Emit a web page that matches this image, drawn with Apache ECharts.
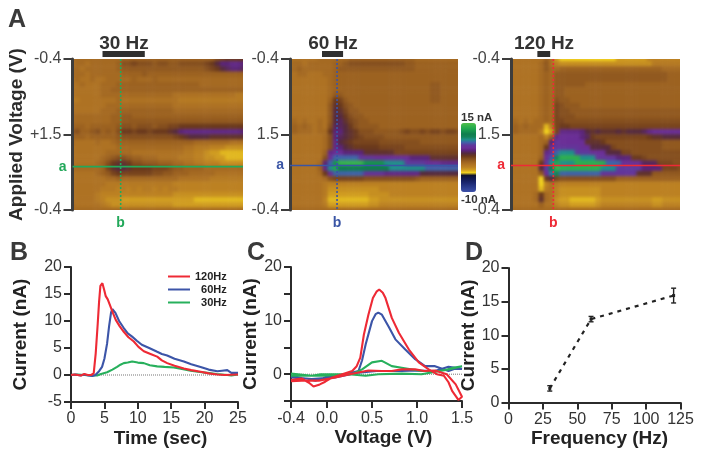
<!DOCTYPE html>
<html>
<head>
<meta charset="utf-8">
<script src="https://cdn.jsdelivr.net/npm/echarts@6/dist/echarts.min.js"></script>
<style>
html,body{margin:0;padding:0;background:#fff}
#stage{position:relative;width:701px;height:455px;filter:blur(0.4px)}
#clip{position:absolute;left:0;top:0;width:701px;height:455px;clip-path:path('M72.5 59H243V210H72.5Z M290 59H458V210H290Z M511 59H680V210H511Z')}
#maps{width:701px;height:455px;filter:blur(1.5px)}
#main{position:absolute;left:0;top:0;width:701px;height:455px}
</style>
</head>
<body>
<div id="stage">
  <div id="clip"><div id="maps"></div></div>
  <div id="main"></div>
</div>
<script>
// colour scale, nA from -10 up to 15
var scaleColors = ['#3c50a8','#324499','#283888','#1e2b76','#162062','#10184c','#0e1230','#f2d21e','#d09c20','#bc8122','#ae7223','#9c6220','#854f1e','#6a391c','#552a3e','#5a2478','#6a2e96','#5e3a9c','#3f62a8','#1f8e8a','#138459','#0f7d4e','#15934f','#22a74e','#35b44c','#52bd4a']

// colour plots, rows from top to bottom, 34 columns, nA
var plot30 = [
[.5,.5,.5,.5,.5,.5,.5,.5,.5,.5, 1,1,1,1,1,1,1,1,1,1, 1,1,1,1,1,1,1,1,2,2.5,3,3,3,3],
[0,.5,.5,0,.5,.5,.5,.5,.5,1, 2,2,2.5,2,2,2,1.5,2,2,1.5, 1.5,2,2,2,2,2,2.5,3,4,5,5,5.5,5.5,5],
[.5,.5,0,.5,.5,.5,.5,.5,.5,1, 1.5,1.5,1.5,1.5,1.5,1.5,1.5,1.5,1.5,1.5, 1.5,1.5,1.5,1.5,1.5,1.5,2,2.5,3,4,4.5,5,5,4.5],
[.5,.5,.5,0,.5,.5,.5,.5,.5,.5, 1,1,1,1,1.5,1,1,1,1,1, 1,1,1,1,1,1,1,1,1,1,1,1,1,1],
[0,.5,0,0,.5,0,0,.5,.5,.5, .5,.5,1,.5,.5,.5,1,.5,.5,.5, .5,.5,.5,.5,.5,.5,.5,.5,.5,.5,.5,.5,.5,.5],
[0,0,.5,0,0,0,.5,.5,.5,1, 1,1,1,1,1,1,1,1,1,1, 1,1,1,1,1,.5,.5,.5,.5,.5,.5,.5,.5,.5],
[0,0,0,0,0,0,.5,.5,1,1, 1,1,1,1,1,1,1,1,1,1, 1,1,1,1,1,1,1,1,1,1,1,1,1,1],
[0,0,0,0,0,0,.5,.5,.5,.5, .5,.5,.5,.5,.5,.5,.5,.5,.5,.5, 0,0,0,0,0,0,0,0,0,0,0,0,-.5,-.5],
[-.5,-.5,0,0,0,0,0,0,0,.5, 0,0,0,0,0,0,0,0,0,0, 0,-.5,-.5,-.5,-.5,-.5,-.5,-.5,-.5,-.5,-.5,-.5,-.5,-.5],
[0,0,0,0,0,0,0,.5,.5,.5, .5,.5,.5,.5,.5,.5,.5,.5,.5,.5, 0,0,0,0,0,0,0,0,0,0,0,0,0,0],
[0,0,0,0,0,0,.5,.5,.5,1, 1,1,1,1,1,1,1,1,1,1, .5,.5,.5,.5,.5,.5,.5,.5,.5,.5,.5,.5,.5,.5],
[.5,.5,.5,.5,.5,.5,.5,.5,1,1, 1.5,1.5,1,1,1,1,1,1,1,1, 1,1,1,1,1,1,1,1,1,1,1,1,1,1],
[.5,.5,.5,.5,.5,.5,.5,.5,1,1, 1.5,1.5,1.5,1.5,1.5,1.5,1.5,1.5,1.5,1.5, 1.5,1.5,1.5,1.5,1.5,1.5,1.5,1.5,1.5,1.5,1.5,1.5,1.5,1.5],
[1,1,1,.5,1,1,1,1,1,1.5, 2,2,1.5,2,2,2,1.5,2,2,2.5, 2.5,3,3,3,3,3,3,3,3,3,3,3,3,3],
[1.5,2,1,1,1.5,2,1,1.5,1,2, 3,3,2.5,3,3,2.5,3,3,3,3.5, 4,5,5.5,5.5,5.5,5.5,5.5,5.5,5.5,5.5,5.5,5.5,5.5,5],
[1,1,1,.5,1,1,1,1,1,1.5, 2,2,2,2,2,2,2,2,2,2, 2.5,3,3.5,4,4,4,4,3.5,3.5,3.5,3.5,3.5,3.5,3.5],
[.5,0,0,0,0,.5,0,0,.5,1, 1,1,1,1,1,1,1,1,1,1, 1,1,1,1,.5,.5,.5,.5,.5,.5,.5,0,0,0],
[0,0,0,0,0,0,0,0,0,.5, .5,.5,.5,.5,.5,.5,.5,.5,.5,.5, .5,.5,0,0,-.5,-.5,-.5,-1,-1,-1,-1.5,-1.5,-1.5,-1.5],
[0,0,0,0,0,0,0,.5,.5,.5, .5,.5,0,0,0,0,0,0,0,0, 0,0,-.5,-.5,-1,-1,-1.5,-2,-2,-2.5,-2.5,-2.5,-2.5,-2.5],
[0,0,0,0,0,0,.5,1,1.5,2, 2,1.5,1,1,.5,.5,.5,0,0,0, 0,-.5,-.5,-.5,-1,-1,-1.5,-1.5,-2,-2,-2.5,-2.5,-2.5,-2.5],
[0,0,0,0,0,.5,1,2,3,3.5, 3.5,3,2,2,1.5,1.5,1.5,1,1,1, .5,.5,0,0,-.5,-.5,-1,-1,-1,-1.5,-1.5,-1.5,-1.5,-1.5],
[.5,.5,.5,.5,.5,.5,1,2.5,3.5,4, 4,3.5,3,3,3,3,2.5,2.5,2.5,2, 1.5,1.5,1,1,1,1,.5,.5,.5,.5,.5,.5,.5,.5],
[0,0,0,0,0,.5,1,1.5,2.5,3, 2.5,2.5,2.5,2.5,2.5,2.5,2,2,1.5,1.5, 1,1,1,.5,.5,.5,.5,.5,0,0,0,0,0,0],
[0,0,0,0,0,0,0,.5,.5,1, .5,.5,.5,.5,.5,.5,.5,.5,.5,.5, .5,0,0,0,0,0,0,-.5,-.5,-.5,-.5,-.5,-.5,-.5],
[0,0,0,0,0,0,0,-.5,-.5,-.5, -.5,-.5,-.5,-.5,-.5,-.5,-.5,-.5,-.5,-.5, -1,-1,-1,-1,-1,-1,-1,-1,-1,-1,-1,-1,-1,-1],
[0,0,0,0,0,0,-.5,-.5,-.5,-1, -.5,-1,-.5,-1,-.5,-.5,-1,-.5,-1,-.5, -.5,-1,-1,-1,-1,-1,-1,-1,-1,-1,-1,-1,-1,-1],
[0,0,0,0,0,-.5,-1,-1,-1,-1, -1,-1,-1,-1,-1,-1,-1,-1,-1,-1, -1.5,-1.5,-1.5,-1.5,-1.5,-1.5,-1.5,-1.5,-1.5,-1.5,-1.5,-1.5,-1.5,-1.5],
[0,0,0,0,0,-.5,-1,-1.5,-1.5,-1.5, -2,-2,-2,-2,-2,-2,-2,-2,-2,-2, -2,-2,-2,-2,-2.5,-2.5,-2.5,-2.5,-2.5,-2.5,-2.5,-2.5,-2.5,-2.5],
[.5,0,0,0,0,0,-.5,-1,-1.5,-1.5, -1.5,-1.5,-1.5,-1.5,-1.5,-1.5,-1.5,-1.5,-1.5,-1.5, -2,-2,-2,-2,-2,-2,-2,-2,-2,-2,-2,-2,-2,-2],
[.5,.5,.5,.5,.5,.5,.5,.5,.5,.5, .5,.5,.5,.5,.5,.5,.5,.5,.5,.5, .5,.5,.5,.5,.5,.5,.5,.5,.5,.5,.5,.5,.5,.5]
]
var plot60 = [
[0,0,0,0,0,0,.5,.5,.5,.5, .5,.5,1,1,1,1,1,1,1,1, 1,1,1,1,1,.5,.5,.5,.5,.5,.5,.5,.5,.5],
[0,.5,.5,0,.5,.5,.5,.5,.5,1, 1,1.5,2,2,2,2,2,2,2,2, 2,2,2,1.5,1.5,1,1,1,1,1,1,1,1,1],
[.5,.5,1,.5,.5,.5,.5,.5,.5,1, 1.5,1.5,1.5,1.5,1.5,1.5,1.5,1.5,1.5,1.5, 1.5,1.5,1.5,1.5,1.5,1,1,1,1,1,1,1,1,1],
[0,0,.5,.5,0,0,0,.5,.5,1, 1,1,1,1,1,1,1,1,1,1, 1,1,1,1,1,1,1,1,1,1,1,1,1,1],
[0,0,0,0,0,0,0,0,.5,1, 1,1,1,1,1,1,1,1,1,1, 1,1,1,1,1,1,1,1,1,1,1,1,1,1],
[0,0,0,0,0,0,0,0,.5,1, 1,1,1,1,1,1,1,1,1,1, 1,1,1,1,1,1,1,1,1.5,1.5,1,1,1,1],
[0,0,0,0,0,0,0,0,.5,1, 1,1,1,1,1,1,1,1,1,1, 1,1,1,1,1,1,1,1,1.5,1.5,1,1,1,1],
[0,0,0,0,0,0,0,0,.5,1.5, 1.5,1,1,1,1,1,1,1,1,1, 1,1,1,1,1,1,1,1,1.5,1.5,1,1,1,1],
[0,0,0,0,0,0,0,0,1,3, 2.5,1.5,1,1,1,1,1,1,1,1, 1,1,1,1,1,1,1,1,1.5,1.5,1,1,1,1],
[0,0,0,0,0,0,0,0,1.5,3.5, 3,2,1.5,1,1,1,1,1,1,1, 1,1,1,1,1,1,1,1,1,1,1,1,1,1],
[0,0,0,0,0,0,0,0,1.5,4, 3.5,2.5,1.5,1.5,1,1,1,1,1,1, 1,1,1,1,1,1,1,1,1,1,1,1,1,1],
[0,0,0,0,0,0,0,0,1.5,4, 4,3,2,1.5,1.5,1,1,1,1,1, 1,1,1,1,1,1,1,1,1,1,1,1,1,1],
[.5,.5,0,.5,0,0,.5,0,1.5,4, 4.5,3.5,2.5,2,1.5,1.5,1,1,1,1, 1,1,1,1,1,1,1,1,1,1,1,1,1,1],
[.5,1,.5,1,.5,0,.5,0,2,4.5, 4.5,4,3,2,1.5,1.5,1.5,1.5,1,1, 1,1,1,1,1,1,1,1,1,1,1,1,1,1],
[.5,1,.5,.5,.5,0,.5,.5,3,5, 5,4,3.5,3,2,2,2,1.5,1.5,1.5, 1.5,1.5,2,2.5,2,2,2.5,2,2.5,2.5,2,2.5,2.5,2],
[0,0,0,0,0,0,0,.5,2,5, 4.5,4,3.5,3,2.5,2,2,2,2,1.5, 1.5,1.5,1.5,1.5,1.5,1.5,1.5,1.5,1.5,1.5,1.5,1.5,1.5,1.5],
[0,0,0,0,0,0,0,.5,2,5.5, 4,3.5,3,2.5,2.5,2.5,2.5,2.5,2,2, 2,2,2,2,2,2,1.5,1.5,1.5,1.5,1.5,1.5,1.5,1.5],
[0,0,0,0,0,0,0,.5,2,5.5, 5,4,3.5,3,3,3,3,3,2.5,2.5, 2.5,2.5,2.5,2,2,2,2,2,2,2,2,2,2,2],
[0,0,0,0,0,0,0,1,5.5,6, 6,5,5,5,5,3.5,3.5,3.5,3.5,3.5, 3.5,2.5,2.5,2.5,2.5,2.5,2.5,2.5,2.5,2.5,2.5,2.5,2.5,2.5],
[0,0,0,0,0,0,0,2,6,8, 8,8,8,8,6.5,6.5,6.5,6,6,6, 6,6,6,6,5,5,5,5,3.5,3.5,3.5,3.5,3.5,3.5],
[0,0,0,0,0,0,.5,5,8,12, 14,14,14,14,14,12,12,12,12,9, 9,9,9,7,7,7,7,6,6,6,5.5,5.5,5.5,5.5],
[0,0,0,0,0,0,1,5.5,9,13, 11,11,11,11,11,11,11,11,11,11, 9,9,9,9,9,9,9,8,8,8,8,8,8,8],
[0,0,0,0,0,0,.5,3,6,8, 8,8,8,8,8,6.5,6.5,6.5,6.5,5.5, 5.5,5.5,5.5,5.5,5.5,5.5,4,4,4,4,4,4,4,4],
[0,0,0,0,0,0,0,.5,2,2.5, 2.5,2.5,2.5,2.5,2.5,2,2,2,2,2, 2,2,2,2,2,1.5,1,1,1,1,1,1,1,1],
[0,0,0,0,0,0,0,-.5,-1,-1, -1,-1,-1,-1,-1,-1,-1,-1,-1,-1, -1,-1,-1,-1,-1,-1,-1,-1,-1,-1,-1,-1,-1,-1],
[0,0,0,0,0,0,0,-.5,-1.5,-1.5, -1.5,-1.5,-1.5,-1.5,-1.5,-1.5,-1.5,-1.5,-1,-1, -1,-1,-1,-1,-1,-1,-1,-1,-1,-1,-1,-1,-1,-1],
[0,0,0,0,0,0,0,-.5,-2,-2, -2,-2,-2,-2,-2,-2,-1.5,-1.5,-1.5,-1.5, -1,-1,-1,-1,-1,-1,-1,-1,-1,-1,-1,-1,-1,-1],
[0,0,0,0,0,0,0,-1,-2.5,-2.5, -2.5,-2.5,-2.5,-2.5,-2.5,-2.5,-2,-2,-1.5,-1.5, -1.5,-1.5,-1.5,-1.5,-1.5,-1.5,-1.5,-1.5,-1.5,-1.5,-1.5,-1.5,-1.5,-1.5],
[0,0,0,0,0,0,0,-.5,-2,-2, -2,-2,-2,-2,-2,-2,-1.5,-1.5,-1,-1, -1,-1,-1,-1,-1,-1,-1,-1,-1,-1,-1,-1,-1,-1],
[.5,.5,.5,.5,.5,.5,.5,.5,.5,.5, .5,.5,.5,.5,.5,.5,.5,.5,.5,.5, .5,.5,.5,.5,.5,.5,.5,.5,.5,.5,.5,.5,.5,.5]
]
var plot120 = [
[0,0,0,0,0,0,0,1,0,-2, -3,-3,-3,-3,-3,-3,-3,-3,-3,-3, -3,-2,-2,-2,-2,-2,-2,-1,-1,-1,-1,-1,-1,-1],
[0,0,0,0,0,0,.5,1.5,0,-1, -1.5,-1.5,-1.5,-1.5,-1.5,-1.5,-1.5,-1.5,-1.5,-1.5, -1.5,-1.5,-1.5,-1.5,-1.5,-1.5,-1.5,-1.5,-.5,-.5,-.5,-.5,-.5,-.5],
[0,0,0,0,0,0,.5,1.5,.5,.5, 1,1,1,1,1,1,1,1,1,1, 1,1,1,1,1,1,1,1,1,1,.5,.5,.5,.5],
[0,0,0,0,0,0,.5,1,.5,1.5, 1.5,1.5,1.5,1.5,1.5,1.5,1.5,1.5,1.5,1.5, 1.5,1.5,1.5,1.5,1.5,1.5,1.5,1.5,1.5,1.5,1.5,1,1,1],
[0,0,0,0,0,0,.5,1,.5,1.5, 1.5,1.5,1.5,1.5,1.5,1.5,1.5,1.5,1.5,1.5, 1.5,1.5,1.5,1.5,1.5,1.5,1.5,1.5,1.5,1.5,1.5,1,1,1],
[0,0,0,0,0,0,.5,1,.5,1.5, 1.5,1.5,1.5,1.5,1.5,1,1,1,1,1, 1,1,1,1,1,1,1,1,1,1,1,1,1,1],
[0,0,0,0,0,0,.5,1,.5,1.5, 1.5,1,1,1,1,1,1,1,1,1, 1,1,1,1,1,1,1,1,1,1,1,1,1,1],
[0,0,0,0,0,0,.5,1,.5,1.5, 1.5,1,1,1,1,1,1,1,1,1, 1,1,1,1,1,1,1,1,1,1,1,1,1,1],
[0,0,0,0,0,0,.5,1,.5,2, 1.5,1.5,1,1,1,1,1,1,1,1, 1,1,1,1,1,1,1,1,1,1,1,1,1,1],
[0,0,0,0,0,0,.5,1,.5,2.5, 2,1.5,1.5,1.5,1,1,1,1,1,1, 1,1,1,1,1,1,1,1,1,1,1,1,1,1],
[0,0,0,0,0,0,.5,1,.5,2.5, 2,2,1.5,1.5,1.5,1.5,1.5,1.5,1.5,1.5, 1.5,1.5,1.5,1.5,1.5,1.5,1.5,1.5,1.5,1.5,1.5,1.5,1.5,1.5],
[0,0,0,0,0,0,.5,1,.5,2.5, 2,2,2,1.5,1.5,1.5,1.5,1.5,1.5,1.5, 1.5,1.5,1.5,1.5,1.5,1.5,1.5,1.5,1.5,1.5,1.5,1.5,1.5,1.5],
[.5,.5,0,.5,0,.5,.5,1,.5,2.5, 2.5,2,2,2,2,2,2,2,2,2, 2,2,2,2,2,2,2,2,2,2,2,2,2,2],
[.5,1,.5,1,.5,.5,.5,-2.5,-.5,2.5, 3,3,2.5,2.5,2.5,2.5,2.5,2.5,2.5,2.5, 2.5,2.5,2.5,2.5,2.5,2.5,2.5,2.5,2.5,2.5,2.5,2.5,2.5,2.5],
[.5,1,.5,.5,.5,.5,-.5,-3,-2,2.5, 5.5,5.5,5.5,5.5,5,4,3.5,4,3.5,3.5, 3.5,4,3.5,4,4,4,4.5,5.5,6,6,6,6,6,6],
[0,0,0,0,0,0,.5,-1,1,5.5, 6,6,6,6,5,4.5,3,2.5,2.5,2.5, 2.5,2.5,2.5,2.5,2.5,2.5,2.5,3,3.5,3.5,4,4,4,4],
[0,0,0,0,0,0,.5,1,5,6.5, 6,6,6,6,6,3.5,3.5,3.5,3,2, 2,2,2,2,2,2,2,2,2,2,1.5,1.5,1.5,1.5],
[0,0,0,0,0,0,.5,3,6,6.5, 6.5,6.5,6.5,6.5,6,6,4,4,4,4, 2.5,2,2,2,2,2,2,2,2,2,1.5,1.5,1.5,1.5],
[0,0,0,0,0,0,.5,5.5,6.5,8, 9,9,9,7,7,7,6,6,6,4, 4,4,2.5,2.5,2,2,2,2,2,2,2,2,2,2],
[0,0,0,0,0,0,1,6,7.5,10, 13.5,13.5,13.5,13.5,9,9,9,6.5,6.5,6.5, 6.5,5,5,5,3,3,2.5,2,2,2,2,2,2,2],
[0,0,0,0,0,0,3,6.5,9,13, 9,9,9,13.5,13.5,13.5,13.5,13.5,13.5,8, 8,8,6,6,6,6,4.5,4.5,4.5,2.5,2.5,2.5,2,2],
[0,0,0,0,0,0,4,7,11,14, 13.5,13.5,13.5,13.5,13.5,13.5,13.5,13.5,9,9, 9,7,7,7,7,7,5,5,5,5,2.5,2.5,2.5,2],
[0,0,0,0,0,0,1.5,6,8.5,10, 8,8,8,8,8,8,8,8,6.5,6.5, 6.5,6.5,6.5,6.5,6.5,3.5,3.5,3.5,1.5,1.5,1.5,1.5,1.5,1.5],
[0,0,0,0,0,0,-3,3,4,2.5, 2,2,2,2,2,2,2,2,2,2, 2,1,1,1,1,1,1,1,1,1,1,1,1,1],
[0,0,0,0,0,0,-3,-1,0,-.5, -1,-1,-1,-1,-1,-1,-1,-1,-1,-1, -1,-1,-1,-1,-1,-1,-1,-1,-1,-1,-1,-1,-1,-1],
[0,0,0,0,0,0,-2.5,-.5,0,-1, -1.5,-1.5,-1.5,-1.5,-1.5,-1.5,-1.5,-1.5,-1,-1, -1,-1,-1,-1,-1,-1,-1,-1,-1,-1,-1,-1,-1,-1],
[0,0,0,0,0,.5,3,.5,0,-1, -1.5,-1.5,-1.5,-1.5,-1.5,-1.5,-1.5,-1.5,-1,-1, -1,-1,-1,-1,-1,-1,-1,-1,-1,-1,-1,-1,-1,-1],
[0,0,0,0,0,.5,3.5,.5,0,-1.5, -2,-2,-2.5,-2.5,-2.5,-2.5,-2.5,-2,-1.5,-1.5, -1.5,-1.5,-1.5,-1.5,-1.5,-1.5,-1.5,-1.5,-2,-2,-1.5,-1.5,-1.5,-1.5],
[0,0,0,0,0,0,1,0,0,-1, -1.5,-1.5,-2,-2,-2,-2,-2,-1.5,-1,-1, -1,-1,-1,-1,-1,-1,-1,-1,-1.5,-1.5,-1,-1,-1,-1],
[.5,.5,.5,.5,.5,.5,.5,.5,.5,.5, .5,.5,.5,.5,.5,.5,.5,.5,.5,.5, .5,.5,.5,.5,.5,.5,.5,.5,.5,.5,.5,.5,.5,.5]
]

// labels, guide lines and stimulation windows of the colour plots
var plotTitles = ['30 Hz', '60 Hz', '120 Hz']
var plotColors = ['#22a85a', '#3a55a5', '#ee2a35']
var sweepLabels = [['-0.4', '+1.5', '-0.4'], ['-0.4', '1.5', '-0.4'], ['-0.4', '1.5', '-0.4']]
var lineAPos = [1.426, 1.41, 1.41]
var lineBPos = [7.06, 7.0, 6.26]
var stimStart = [4.4, 4.76, 3.9]
var stimStop = [10.6, 7.9, 5.8]

// B, current against time
var time120 = [[0,0],[.5,.1],[1,0],[1.5,-.1],[2,.2],[2.5,0],[3,0],[3.4,.3],[3.7,4],[4,9.5],[4.2,13.5],[4.4,16.5],[4.7,17],[5,15.6],[5.2,14.6],[5.5,14],[5.9,12.7],[6.3,11.4],[6.7,10.2],[7.3,9],[7.9,8],[8.6,7],[9.4,6.2],[10.1,5.2],[10.9,4.4],[11.9,3.9],[12.9,3.4],[13.6,2.7],[14.4,2.2],[15.5,1.7],[16.9,1.2],[18,.9],[19.4,.6],[20.6,.3],[21.9,.1],[23,0],[25,.1]]
var time60 = [[0,0],[.7,.1],[1.4,-.1],[2,.1],[2.6,-.1],[3.2,-.2],[3.65,0],[4.2,.7],[4.65,1.5],[5,3],[5.4,5.8],[5.7,9],[6,11.6],[6.2,12.2],[6.65,11.5],[7.2,10],[7.9,8.7],[8.5,7.7],[9.15,7.1],[9.9,6.3],[10.6,5.6],[11.7,5],[12.9,4.3],[13.6,3.9],[14.4,3.6],[15.5,3],[16.9,2.5],[18,2],[19.4,1.5],[20.6,1],[21.9,.7],[22.6,.8],[23.4,.9],[24,.4],[25,.4]]
var time30 = [[0,0],[1,.1],[2,0],[3,-.1],[3.9,-.1],[4.5,.2],[5.4,.5],[6.2,1],[6.9,1.5],[7.4,1.9],[7.9,2.2],[8.5,2.3],[9.15,2.5],[10,2.3],[10.9,2.2],[11.8,1.8],[12.9,1.6],[14,1.5],[15.4,1.4],[16.6,1.1],[17.9,.8],[19,.6],[20.4,.4],[21.8,.2],[23.4,0],[24,-.1],[25,.1]]

// C, current against voltage, up sweep then down sweep
var volt120 = [[-.4,-1.1],[-.28,-.8],[-.2,-1.6],[-.15,-2.3],[-.08,-1.9],[-.02,-1.4],[.06,-.6],[.17,0],[.28,.6],[.33,1.5],[.37,3.1],[.41,7.4],[.46,11.1],[.51,14.2],[.55,15.4],[.58,15.8],[.62,15.2],[.65,14.2],[.72,10.5],[.8,7.7],[.91,4.6],[1.02,2.2],[1.13,.9],[1.22,0],[1.3,-.3],[1.35,-1.5],[1.39,-3.1],[1.46,-4.8],[1.5,-4.2],[1.43,-1.9],[1.33,0],[1.2,.7],[1.08,.6],[.98,.9],[.83,.9],[.72,.6],[.61,.6],[.46,.7],[.28,.1],[.09,-.6],[-.09,-1.2],[-.28,-1.2],[-.4,-1.3]]
var volt60 = [[-.4,-.3],[-.28,-.7],[-.2,-.9],[-.13,-1.2],[-.05,-.8],[.02,-.3],[.17,-.3],[.28,.3],[.35,.6],[.39,2.6],[.43,5.6],[.5,9.9],[.54,11.2],[.57,11.5],[.61,11.1],[.69,8.7],[.76,6.5],[.87,4.6],[.98,2.8],[1.09,1.5],[1.2,1.5],[1.35,.6],[1.42,1],[1.5,1],[1.35,1.4],[1.2,.6],[1,.7],[.83,.6],[.55,.6],[.35,.3],[.09,-.6],[-.17,-.9],[-.4,-.6]]
var volt30 = [[-.4,.1],[-.17,-.3],[-.07,0],[.09,0],[.28,0],[.39,.9],[.5,2.2],[.61,2.5],[.72,1.5],[.83,1.2],[1.05,.6],[1.28,.6],[1.4,1.2],[1.5,1.5],[1.35,.9],[1.05,0],[.83,.1],[.57,0],[.43,-.3],[.24,0],[-.04,-.3],[-.4,-.3]]

// D, peak current against frequency
var freqHz = [30, 60, 120]
var peakNa = [2.1, 12.4, 15.9]
var errNa = [.4, .4, 1.1]

var tickFont = 'Liberation Sans'
var axisDark = '#2b2b2b'

function cells(rows) {
  var out = []
  rows.forEach(function (row, r) {
    row.forEach(function (v, c) { out.push([c, r, v]) })
  })
  return out
}

function indexList(n) {
  var out = []
  for (var i = 0; i < n; i++) out.push(i)
  return out
}

var plots = [plot30, plot60, plot120]
var plotGrids = [
  {left: 72.5, top: 59, width: 170.5, height: 151},
  {left: 290, top: 59, width: 168, height: 151},
  {left: 511, top: 59, width: 169, height: 151}
]

// colour plots sit on their own blurred layer, clipped back to the plot area
var mapGrids = [], mapX = [], mapY = [], mapSeries = []
plots.forEach(function (rows, i) {
  var g = plotGrids[i]
  mapGrids.push({left: g.left - 3, top: g.top - 3, width: g.width + 6, height: g.height + 6})
  mapX.push({type: 'category', gridIndex: i, show: false, data: indexList(34)})
  mapY.push({type: 'category', gridIndex: i, show: false, inverse: true, data: indexList(30)})
  mapSeries.push({
    type: 'heatmap', xAxisIndex: i, yAxisIndex: i,
    data: cells(rows), itemStyle: {borderWidth: 0}, progressive: 0, emphasis: {disabled: true}
  })
})
var mapChart = echarts.init(document.getElementById('maps'))
mapChart.setOption({
  animation: false,
  visualMap: {show: false, type: 'continuous', min: -10, max: 15, dimension: 2, inRange: {color: scaleColors}},
  grid: mapGrids, xAxis: mapX, yAxis: mapY, series: mapSeries
})

var grids = plotGrids.concat([
  {left: 71, top: 267, width: 167, height: 135},
  {left: 291, top: 267, width: 171, height: 134},
  {left: 508.5, top: 268, width: 172, height: 134.5}
])
var xAxes = [], yAxes = [], series = []

plots.forEach(function (rows, i) {
  xAxes.push({type: 'value', gridIndex: i, show: false, min: 0, max: 25})
  yAxes.push({
    type: 'value', gridIndex: i, inverse: true, min: 0, max: 2, interval: 1, position: 'left',
    name: i === 0 ? 'Applied Voltage (V)' : '',
    nameLocation: 'middle', nameGap: 41,
    nameTextStyle: {fontFamily: tickFont, fontWeight: 'bold', fontSize: 19, color: '#2b2b2b'},
    axisLine: {show: true, lineStyle: {color: '#3d3d3d', width: 3}},
    axisTick: {show: true, length: 9, lineStyle: {color: '#3d3d3d', width: 2}},
    axisLabel: {
      margin: 11, fontFamily: tickFont, fontSize: 16, color: '#444',
      formatter: function (v) { return sweepLabels[i][v] }
    },
    splitLine: {show: false}
  })
  var lineOpt = {type: 'line', xAxisIndex: i, yAxisIndex: i, showSymbol: false, silent: true, clip: false}
  series.push(Object.assign({}, lineOpt, {
    name: 'a' + i, lineStyle: {color: plotColors[i], width: 1.6},
    showSymbol: true, symbolSize: 0,
    data: [
      {value: [0, lineAPos[i]], label: {show: true, position: 'left', distance: 6, formatter: 'a', color: plotColors[i], fontFamily: tickFont, fontWeight: 'bold', fontSize: 14}},
      {value: [25, lineAPos[i]]}
    ]
  }))
  series.push(Object.assign({}, lineOpt, {
    name: 'b' + i, lineStyle: {color: plotColors[i], width: 1.6, type: [2, 2]},
    showSymbol: true, symbolSize: 0,
    data: [
      {value: [lineBPos[i], 0]},
      {value: [lineBPos[i], 2], label: {show: true, position: 'bottom', distance: 6, formatter: 'b', color: plotColors[i], fontFamily: tickFont, fontWeight: 'bold', fontSize: 14}}
    ]
  }))
  series.push(Object.assign({}, lineOpt, {
    name: 'stim' + i, lineStyle: {color: '#2f2f2f', width: 6},
    data: [[stimStart[i], -.066], [stimStop[i], -.066]]
  }))
})

function xyAxis(gridIndex, opt) {
  return Object.assign({
    type: 'value', gridIndex: gridIndex, splitLine: {show: false},
    nameLocation: 'middle',
    nameTextStyle: {fontFamily: tickFont, fontWeight: 'bold', fontSize: 19, color: '#222'},
    axisLine: {show: true, onZero: false, lineStyle: {color: axisDark, width: 2}},
    axisTick: {show: true, length: 7, lineStyle: {color: axisDark, width: 2}},
    axisLabel: {margin: 9, fontFamily: tickFont, fontSize: 16, color: '#333'}
  }, opt)
}
function xTitle(pad) {
  return {fontFamily: tickFont, fontWeight: 'bold', fontSize: 19, color: '#222', padding: [0, 0, 0, pad]}
}

var bx = xAxes.length
xAxes.push(xyAxis(3, {min: 0, max: 25, interval: 5, name: 'Time (sec)', nameGap: 27, nameTextStyle: xTitle(12)}))
yAxes.push(xyAxis(3, {min: -5, max: 20, interval: 5, name: 'Current (nA)', nameGap: 41}))
xAxes.push(xyAxis(4, {
  min: -.4, max: 1.5, name: 'Voltage (V)', nameGap: 27, nameTextStyle: xTitle(14),
  axisTick: {show: true, length: 7, lineStyle: {color: axisDark, width: 2}, customValues: [-.4, 0, .5, 1, 1.5]},
  axisLabel: {margin: 10, fontFamily: tickFont, fontSize: 16, color: '#333', customValues: [-.4, 0, .5, 1, 1.5], formatter: function (v) { return v.toFixed(1) }}
}))
yAxes.push(xyAxis(4, {
  min: -5, max: 20, interval: 5, name: 'Current (nA)', nameGap: 25,
  axisLabel: {margin: 9, fontFamily: tickFont, fontSize: 16, color: '#333', customValues: [0, 10, 20]}
}))
xAxes.push(xyAxis(5, {min: 0, max: 125, interval: 25, name: 'Frequency (Hz)', nameGap: 27, nameTextStyle: xTitle(10)}))
yAxes.push(xyAxis(5, {min: 0, max: 20, interval: 5, name: 'Current (nA)', nameGap: 20}))

function curve(name, color, data, ax) {
  return {
    name: name, type: 'line', xAxisIndex: ax, yAxisIndex: ax, data: data,
    showSymbol: false, silent: true, lineStyle: {color: color, width: 2.1},
    itemStyle: {color: color}
  }
}
function zeroLine(ax, x0, x1) {
  return {
    type: 'line', xAxisIndex: ax, yAxisIndex: ax, showSymbol: false, silent: true,
    lineStyle: {color: '#777', width: 1, type: [1, 1]}, data: [[x0, 0], [x1, 0]]
  }
}

series.push(zeroLine(bx, 0, 25))
series.push(curve('30Hz', '#27b05c', time30, bx))
series.push(curve('60Hz', '#3c55a8', time60, bx))
series.push(curve('120Hz', '#ee2a35', time120, bx))

series.push(zeroLine(bx + 1, -.4, 1.5))
series.push(curve('v60', '#3c55a8', volt60, bx + 1))
series.push(curve('v30', '#27b05c', volt30, bx + 1))
series.push(curve('v120', '#ee2a35', volt120, bx + 1))

series.push({
  type: 'line', xAxisIndex: bx + 2, yAxisIndex: bx + 2, showSymbol: false, silent: true,
  lineStyle: {color: '#222', width: 2.2, type: [4, 5]},
  data: freqHz.map(function (f, i) { return [f, peakNa[i]] })
})
series.push({
  type: 'custom', xAxisIndex: bx + 2, yAxisIndex: bx + 2, silent: true,
  data: freqHz.map(function (f, i) { return [f, peakNa[i], errNa[i]] }),
  renderItem: function (params, api) {
    var f = api.value(0), p = api.value(1), e = api.value(2)
    var hi = api.coord([f, p + e]), lo = api.coord([f, p - e]), c = api.coord([f, p])
    var st = {stroke: '#222', lineWidth: 1.4}
    return {type: 'group', children: [
      {type: 'line', shape: {x1: hi[0], y1: hi[1], x2: lo[0], y2: lo[1]}, style: st},
      {type: 'line', shape: {x1: hi[0] - 2.5, y1: hi[1], x2: hi[0] + 2.5, y2: hi[1]}, style: st},
      {type: 'line', shape: {x1: lo[0] - 2.5, y1: lo[1], x2: lo[0] + 2.5, y2: lo[1]}, style: st},
      {type: 'rect', shape: {x: c[0] - 1.5, y: c[1] - 1.5, width: 3, height: 3}, style: {fill: '#222'}}
    ]}
  }
})

function textAt(text, left, top, size, color, align) {
  return {
    text: text, left: left, top: top, padding: 0,
    textAlign: align || 'left',
    textStyle: {fontFamily: tickFont, fontWeight: 'bold', fontSize: size, color: color}
  }
}

var option = {
  animation: false,
  title: [
    textAt('A', 8, 8, 25, '#3a3a3a'),
    textAt('B', 10, 241, 25, '#3a3a3a'),
    textAt('C', 247, 241, 25, '#3a3a3a'),
    textAt('D', 465, 241, 25, '#3a3a3a'),
    textAt(plotTitles[0], 124, 34, 19, '#333', 'center'),
    textAt(plotTitles[1], 333, 34, 19, '#333', 'center'),
    textAt(plotTitles[2], 544, 34, 19, '#333', 'center'),
    textAt('15 nA', 461, 112, 11.5, '#333'),
    textAt('-10 nA', 461, 194, 11.5, '#333')
  ],
  legend: {
    orient: 'vertical', left: 168, top: 271, padding: 0, itemGap: 2,
    itemWidth: 22, itemHeight: 11,
    icon: 'path://M0 4H22V6H0Z',
    data: ['120Hz', '60Hz', '30Hz'],
    formatter: function (n) { return n === '120Hz' ? n : '  ' + n },
    textStyle: {fontFamily: tickFont, fontWeight: 'bold', fontSize: 11, color: '#222'},
    selectedMode: false
  },
  visualMap: {
    type: 'continuous', min: -10, max: 15, seriesIndex: [], dimension: 2,
    left: 461, top: 123, itemWidth: 15, itemHeight: 69, padding: 0,
    text: null, calculable: false, realtime: false, hoverLink: false,
    showLabel: false,
    inRange: {color: scaleColors}
  },
  grid: grids, xAxis: xAxes, yAxis: yAxes, series: series
}

var mainChart = echarts.init(document.getElementById('main'), null, {renderer: 'canvas'})
mainChart.setOption(option)
</script>
</body>
</html>
